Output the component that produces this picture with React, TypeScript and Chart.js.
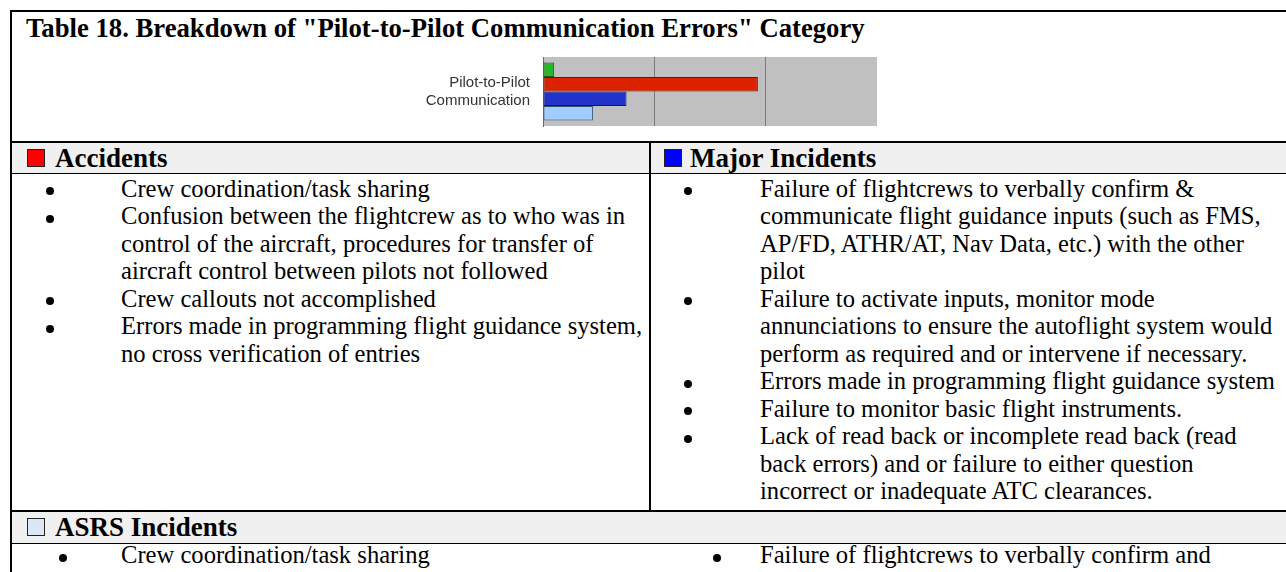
import React, { useEffect, useRef } from "react";
import { Chart, registerables } from "chart.js";

Chart.register(...registerables);

// ---------- data ----------
const categories: string[][] = [["Pilot-to-Pilot", "Communication"]];
const seriesLabels = ["Other", "Accidents", "Major Incidents", "ASRS Incidents"];
const greenValues = [0.1];
const accidentValues = [1.93];
const majorValues = [0.75];
const asrsValues = [0.45];
const xTicks = [0, 1, 2, 3];

const titleText = 'Table 18. Breakdown of "Pilot-to-Pilot Communication Errors" Category';
const accidentsHeader = "Accidents";
const majorHeader = "Major Incidents";
const asrsHeader = "ASRS Incidents";

const accidentsItems: string[][] = [
  ["Crew coordination/task sharing"],
  [
    "Confusion between the flightcrew as to who was in",
    "control of the aircraft, procedures for transfer of",
    "aircraft control between pilots not followed",
  ],
  ["Crew callouts not accomplished"],
  ["Errors made in programming flight guidance system,", "no cross verification of entries"],
];

const majorItems: string[][] = [
  [
    "Failure of flightcrews to verbally confirm &",
    "communicate flight guidance inputs (such as FMS,",
    "AP/FD, ATHR/AT, Nav Data, etc.) with the other",
    "pilot",
  ],
  [
    "Failure to activate inputs, monitor mode",
    "annunciations to ensure the autoflight system would",
    "perform as required and or intervene if necessary.",
  ],
  ["Errors made in programming flight guidance system"],
  ["Failure to monitor basic flight instruments."],
  [
    "Lack of read back or incomplete read back (read",
    "back errors) and or failure to either question",
    "incorrect or inadequate ATC clearances.",
  ],
];

const asrsLeftItems: string[][] = [["Crew coordination/task sharing"]];
const asrsRightItems: string[][] = [["Failure of flightcrews to verbally confirm and"]];

// ---------- styling ----------
const SERIF = '"Liberation Serif", "Times New Roman", Times, serif';
const SANS = '"Liberation Sans", Arial, Helvetica, sans-serif';
const LH = 27.5;
const FS = 24.6;

function BulletList(props: {
  items: string[][];
  top: number;
  bulletX: number;
  textX: number;
}) {
  const { items, top, bulletX, textX } = props;
  const out: React.ReactNode[] = [];
  let idx = 0;
  items.forEach((lines, i) => {
    out.push(
      <div
        key={"b" + i}
        style={{
          position: "absolute",
          left: bulletX - 4,
          top: top + idx * LH + 12.5,
          width: 8,
          height: 8,
          borderRadius: "50%",
          background: "#000",
        }}
      />
    );
    lines.forEach((ln, j) => {
      out.push(
        <div
          key={"t" + i + "_" + j}
          style={{
            position: "absolute",
            left: textX,
            top: top + (idx + j) * LH,
            fontSize: FS,
            lineHeight: LH + "px",
            whiteSpace: "nowrap",
          }}
        >
          {ln}
        </div>
      );
    });
    idx += lines.length;
  });
  return <>{out}</>;
}

function Header(props: { x: number; squareX: number; top: number; color: string; text: string }) {
  const { x, squareX, top, color, text } = props;
  return (
    <>
      <div
        style={{
          position: "absolute",
          left: squareX,
          top: top + 6,
          width: 16,
          height: 16,
          background: color,
          border: "1px solid #222",
        }}
      />
      <div
        style={{
          position: "absolute",
          left: x,
          top: top,
          fontSize: 27,
          fontWeight: "bold",
          lineHeight: "31px",
          whiteSpace: "nowrap",
        }}
      >
        {text}
      </div>
    </>
  );
}

function BarChart() {
  const ref = useRef<HTMLCanvasElement | null>(null);
  useEffect(() => {
    if (!ref.current) return;
    const bgPlugin = {
      id: "plotBg",
      beforeDraw(chart: any) {
        const { ctx, chartArea } = chart;
        ctx.save();
        ctx.fillStyle = "#c0c0c0";
        ctx.fillRect(chartArea.left, chartArea.top, chartArea.right - chartArea.left, chartArea.bottom - chartArea.top);
        ctx.restore();
      },
    };
    const chart = new Chart(ref.current, {
      type: "bar",
      data: {
        labels: categories as any,
        datasets: [
          { label: seriesLabels[0], data: greenValues, backgroundColor: "#2bb52b", borderColor: "#1a5c1a" },
          { label: seriesLabels[1], data: accidentValues, backgroundColor: "#dd2200", borderColor: "#6a1500" },
          { label: seriesLabels[2], data: majorValues, backgroundColor: "#2233cc", borderColor: "#101860" },
          { label: seriesLabels[3], data: asrsValues, backgroundColor: "#a0ccff", borderColor: "#34506e" },
        ].map((d) => ({
          ...d,
          borderWidth: 1,
          borderSkipped: false as any,
          categoryPercentage: 0.84,
          barPercentage: 1,
        })),
      },
      options: {
        indexAxis: "y",
        animation: false,
        responsive: false,
        devicePixelRatio: 1,
        layout: { padding: { top: 7, bottom: 4, right: 3, left: 0 } },
        plugins: { legend: { display: false }, tooltip: { enabled: false } },
        scales: {
          x: {
            min: xTicks[0],
            max: xTicks[xTicks.length - 1],
            ticks: { display: false, stepSize: 1 },
            grid: {
              drawTicks: false,
              color: (c: any) =>
                c.tick && c.tick.value > xTicks[0] && c.tick.value < xTicks[xTicks.length - 1] ? "#7a7a7a" : "rgba(0,0,0,0)",
              lineWidth: 1,
            },
            border: { display: false },
            afterFit: (s: any) => {
              s.height = 0;
              s.paddingLeft = 0;
              s.paddingRight = 0;
            },
          },
          y: {
            grid: { display: false, drawTicks: false },
            border: { display: true, color: "#6a6a6a", width: 1 },
            ticks: {
              font: { family: SANS, size: 15 },
              color: "#333",
              padding: 13,
            },
            afterFit: (s: any) => {
              s.width = 143;
              s.paddingTop = 0;
              s.paddingBottom = 0;
            },
          },
        },
      },
      plugins: [bgPlugin],
    });
    return () => chart.destroy();
  }, []);
  return (
    <canvas
      ref={ref}
      width={480}
      height={80}
      style={{ position: "absolute", left: 400, top: 50, width: 480, height: 80 }}
    />
  );
}

export default function App() {
  return (
    <div
      style={{
        position: "fixed",
        left: 0,
        top: 0,
        width: 1286,
        height: 572,
        overflow: "hidden",
        background: "#fff",
        fontFamily: SERIF,
        color: "#000",
      }}
    >
      {/* bands */}
      <div style={{ position: "absolute", left: 12, top: 143, width: 1300, height: 30, background: "#f0f0f0" }} />
      <div style={{ position: "absolute", left: 12, top: 512, width: 1300, height: 31, background: "#f0f0f0" }} />
      {/* outer borders */}
      <div style={{ position: "absolute", left: 10, top: 10, width: 2, height: 600, background: "#000" }} />
      <div style={{ position: "absolute", left: 10, top: 10, width: 1300, height: 2, background: "#000" }} />
      {/* row lines */}
      <div style={{ position: "absolute", left: 10, top: 141, width: 1300, height: 2, background: "#000" }} />
      <div style={{ position: "absolute", left: 10, top: 173, width: 1300, height: 1, background: "#000" }} />
      <div style={{ position: "absolute", left: 10, top: 510, width: 1300, height: 2, background: "#000" }} />
      <div style={{ position: "absolute", left: 10, top: 543, width: 1300, height: 1, background: "#000" }} />
      {/* column divider */}
      <div style={{ position: "absolute", left: 649, top: 141, width: 2, height: 371, background: "#000" }} />

      {/* title */}
      <div
        style={{
          position: "absolute",
          left: 26,
          top: 13,
          fontSize: 26.7,
          fontWeight: "bold",
          lineHeight: "31px",
          whiteSpace: "nowrap",
        }}
      >
        {titleText}
      </div>

      <BarChart />

      <Header x={55} squareX={27} top={143} color="#ff0000" text={accidentsHeader} />
      <Header x={690} squareX={664} top={143} color="#0000ff" text={majorHeader} />
      <Header x={55} squareX={27} top={512} color="#dce6f4" text={asrsHeader} />

      <BulletList items={accidentsItems} top={174.5} bulletX={50} textX={121} />
      <BulletList items={majorItems} top={174.5} bulletX={688} textX={760} />
      <BulletList items={asrsLeftItems} top={541} bulletX={63} textX={121} />
      <BulletList items={asrsRightItems} top={541} bulletX={717} textX={760} />
    </div>
  );
}
